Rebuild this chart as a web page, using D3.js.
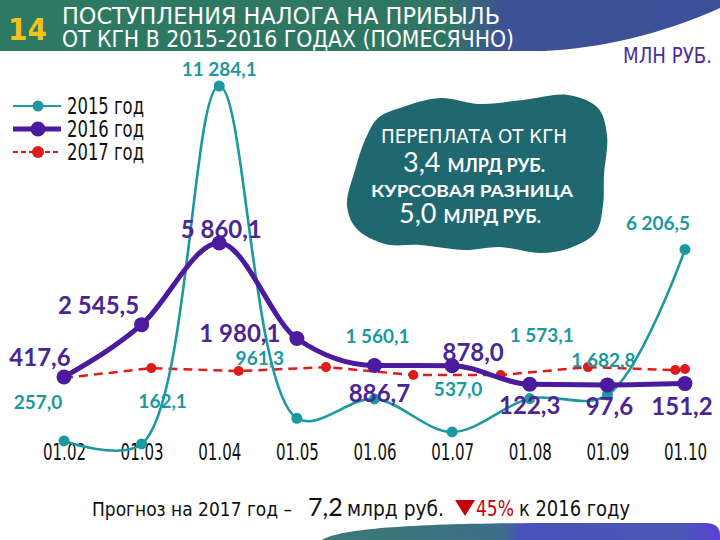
<!DOCTYPE html>
<html><head><meta charset="utf-8">
<script src="https://cdn.jsdelivr.net/npm/d3@7"></script>
<style>
body{margin:0;background:#fff;}
svg{display:block;}
.narrow{font-family:"Liberation Sans Narrow","DejaVu Sans Condensed","Arial Narrow",sans-serif;font-stretch:condensed;}
.lbl{font-family:Lato,"Open Sans",sans-serif;font-weight:700;}
</style>
</head><body>
<svg id="c" width="720" height="540"></svg>
<script>
// ---- data ----
const months = ["01.02","01.03","01.04","01.05","01.06","01.07","01.08","01.09","01.10"];
const values2015 = [257.0, 162.1, 11284.1, 961.3, 1560.1, 537.0, 1573.1, 1682.8, 6206.5];
const values2016 = [417.6, 2545.5, 5860.1, 1980.1, 886.7, 878.0, 122.3, 97.6, 151.2];
const values2017 = [380, 780, 660, 820, 500, 500, 820, 700, 740];
const pos2017 = [0, 1.125, 2.25, 3.375, 4.5, 5.625, 6.75, 7.875, 8];
const labels2015 = ["257,0","162,1","11 284,1","961,3","1 560,1","537,0","1 573,1","1 682,8","6 206,5"];
const labels2016 = ["417,6","2 545,5","5 860,1","1 980,1","886,7","878,0","122,3","97,6","151,2"];
const seriesNames = ["2015 год","2016 год","2017 год"];

// ---- layout / style ----
const off2015 = [[-26,-32],[21,-36],[0,-10],[-37,-53],[3,-56],[6,-36],[12,-57],[-4,-28],[-27,-19]];
const off2016 = [[-24,-11],[-43,-11],[2,-5],[-57,3],[5,37],[21,-5],[0,30],[2,30],[-3,31]];
const C15 = "#1b98a0", C16 = "#4b1a9e", C17 = "#e01b1b", L16 = "#4a2594";

const svg = d3.select("#c");

// header
const defs = svg.append("defs");
const gb = defs.append("linearGradient").attr("id","gb").attr("x1","0").attr("x2","1");
gb.append("stop").attr("offset","0").attr("stop-color","#2d7a62");
gb.append("stop").attr("offset","0.62").attr("stop-color","#2f7664");
gb.append("stop").attr("offset","0.7").attr("stop-color","#3e5096");
gb.append("stop").attr("offset","1").attr("stop-color","#3d4f98");
svg.append("path").attr("d","M0,0 H720 V8 C660,35 600,48 545,51 H0 Z").attr("fill","url(#gb)");
svg.append("text").attr("x",8).attr("y",40).attr("class","narrow").attr("font-size",31).attr("font-weight",700)
  .attr("fill","#f2c31c").text("14");
svg.append("text").attr("x",62).attr("y",24).attr("class","narrow").attr("font-size",23).attr("fill","#fff")
  .attr("textLength",438).attr("lengthAdjust","spacingAndGlyphs").text("ПОСТУПЛЕНИЯ НАЛОГА НА ПРИБЫЛЬ");
svg.append("text").attr("x",62).attr("y",47).attr("class","narrow").attr("font-size",23).attr("fill","#fff")
  .attr("textLength",452).attr("lengthAdjust","spacingAndGlyphs").text("ОТ КГН В 2015-2016 ГОДАХ (ПОМЕСЯЧНО)");
svg.append("text").attr("x",712).attr("y",63).attr("text-anchor","end").attr("class","narrow").attr("font-size",22)
  .attr("fill","#4b2aa0").attr("textLength",89).attr("lengthAdjust","spacingAndGlyphs").text("МЛН РУБ.");

// bottom decoration
const gf = defs.append("linearGradient").attr("id","gf").attr("x1","0").attr("x2","1");
gf.append("stop").attr("offset","0").attr("stop-color","#3a7a72");
gf.append("stop").attr("offset","0.45").attr("stop-color","#3d6f8a");
gf.append("stop").attr("offset","0.5").attr("stop-color","#4753b8");
gf.append("stop").attr("offset","0.9").attr("stop-color","#4a58b4");
gf.append("stop").attr("offset","1").attr("stop-color","#5a3fd6");
svg.append("path").attr("d","M322,540 C340,528 420,523 560,523 H705 Q720,523 720,535 V540 Z").attr("fill","url(#gf)");

// blob
const blobPts = [[400,108],[440,98],[480,104],[523,100],[568,95],[598,108],[607,135],[604,175],[603,205],[596,232],[570,248],[540,253],[500,247],[465,250],[420,245],[385,244],[356,228],[347,205],[355,170],[365,140],[378,118]];
svg.append("path").attr("d", d3.line().curve(d3.curveCatmullRomClosed)(blobPts)).attr("fill","#1f6870");
const bt = svg.append("g").attr("fill","#fff").attr("text-anchor","middle");
bt.append("text").attr("x",474).attr("y",143).attr("class","narrow").attr("font-size",20)
  .attr("textLength",186).attr("lengthAdjust","spacingAndGlyphs").text("ПЕРЕПЛАТА ОТ КГН");
let t = bt.append("text").attr("x",474).attr("y",172);
t.append("tspan").attr("font-family","Lato,sans-serif").attr("font-size",27).text("3,4 ");
t.append("tspan").attr("class","lbl").attr("font-size",18).text("МЛРД РУБ.");
bt.append("text").attr("x",472).attr("y",197).attr("class","lbl").attr("font-size",17)
  .attr("textLength",202).attr("lengthAdjust","spacingAndGlyphs").text("КУРСОВАЯ РАЗНИЦА");
t = bt.append("text").attr("x",470).attr("y",223);
t.append("tspan").attr("font-family","Lato,sans-serif").attr("font-size",27).text("5,0 ");
t.append("tspan").attr("class","lbl").attr("font-size",18).text("МЛРД РУБ.");

// scales
const x = d3.scalePoint().domain(months).range([64, 685]);
const xi = d3.scaleLinear().domain([0, months.length-1]).range([64, 685]);
const y16 = d3.scaleLinear().domain([0, 6000]).range([387.3, 239.6]);
const y15 = d3.scaleLinear().domain([0, 11284.1]).range([449.2, 86]);

// x axis labels
const ax = svg.append("g").attr("transform","translate(0,460)")
  .call(d3.axisBottom(x).tickSize(0).tickPadding(0));
ax.select(".domain").remove();
ax.selectAll("text").attr("class","narrow").attr("font-size",23).attr("fill","#111").attr("dy","0")
  .attr("textLength",43).attr("lengthAdjust","spacingAndGlyphs");

// 2017 dashed
const d17 = values2017.map((v,i)=>[xi(pos2017[i]), y16(v)]);
svg.append("path").attr("d", d3.line()(d17)).attr("fill","none").attr("stroke",C17)
  .attr("stroke-width",2.5).attr("stroke-dasharray","9,6");
svg.append("g").selectAll("circle").data(d17).join("circle")
  .attr("cx",d=>d[0]).attr("cy",d=>d[1]).attr("r",5).attr("fill",C17);

// 2015
const d15 = values2015.map((v,i)=>[x(months[i]), y15(v)]);
svg.append("path").attr("d", d3.line().curve(d3.curveCatmullRom.alpha(0.5))(d15)).attr("fill","none")
  .attr("stroke",C15).attr("stroke-width",2.6);
svg.append("g").selectAll("circle").data(d15).join("circle")
  .attr("cx",d=>d[0]).attr("cy",d=>d[1]).attr("r",5.5).attr("fill",C15);

// 2016
const d16 = values2016.map((v,i)=>[x(months[i]), y16(v)]);
svg.append("path").attr("d", d3.line().curve(d3.curveMonotoneX)(d16)).attr("fill","none")
  .attr("stroke",C16).attr("stroke-width",5);
svg.append("g").selectAll("circle").data(d16).join("circle")
  .attr("cx",d=>d[0]).attr("cy",d=>d[1]).attr("r",7.5).attr("fill",C16);

// labels
svg.append("g").selectAll("text").data(d15).join("text")
  .attr("class","lbl").attr("text-anchor","middle").attr("font-size",19).attr("fill",C15)
  .attr("x",(d,i)=>d[0]+off2015[i][0]).attr("y",(d,i)=>d[1]+off2015[i][1]).text((d,i)=>labels2015[i]);
svg.append("g").selectAll("text").data(d16).join("text")
  .attr("class","lbl").attr("text-anchor","middle").attr("font-size",24).attr("fill",L16)
  .attr("x",(d,i)=>d[0]+off2016[i][0]).attr("y",(d,i)=>d[1]+off2016[i][1]).text((d,i)=>labels2016[i]);

// legend
const leg = svg.append("g");
const legStyle = [{c:C15,w:2.2,r:5.5,dash:null},{c:C16,w:5,r:7.5,dash:null},{c:C17,w:1.8,r:6,dash:"5,3"}];
seriesNames.forEach((n,i)=>{
  const yy = 106 + i*23, s = legStyle[i];
  leg.append("line").attr("x1",13).attr("x2",61).attr("y1",yy).attr("y2",yy)
    .attr("stroke",s.c).attr("stroke-width",s.w).attr("stroke-dasharray",s.dash);
  leg.append("circle").attr("cx",38).attr("cy",yy).attr("r",s.r).attr("fill",s.c);
  leg.append("text").attr("x",67).attr("y",yy+8).attr("class","narrow").attr("font-size",23).attr("fill","#111")
    .attr("textLength",77).attr("lengthAdjust","spacingAndGlyphs").text(n);
});

// bottom note
const nt = svg.append("g").attr("fill","#111");
nt.append("text").attr("x",92).attr("y",516).attr("class","narrow").attr("font-size",20)
  .attr("textLength",200).attr("lengthAdjust","spacingAndGlyphs").text("Прогноз на 2017 год –");
nt.append("text").attr("x",308).attr("y",516).attr("font-family","Lato,sans-serif").attr("font-size",25).text("7,2");
nt.append("text").attr("x",347).attr("y",516).attr("class","narrow").attr("font-size",21)
  .attr("textLength",97).attr("lengthAdjust","spacingAndGlyphs").text("млрд руб.");
nt.append("path").attr("d","M455,500 L475,500 L465,516 Z").attr("fill","#c8000a");
nt.append("text").attr("x",476).attr("y",516).attr("class","narrow").attr("font-size",21).attr("fill","#c8000a")
  .attr("textLength",38).attr("lengthAdjust","spacingAndGlyphs").text("45%");
nt.append("text").attr("x",519).attr("y",516).attr("class","narrow").attr("font-size",21)
  .attr("textLength",111).attr("lengthAdjust","spacingAndGlyphs").text("к 2016 году");
</script>
</body></html>
